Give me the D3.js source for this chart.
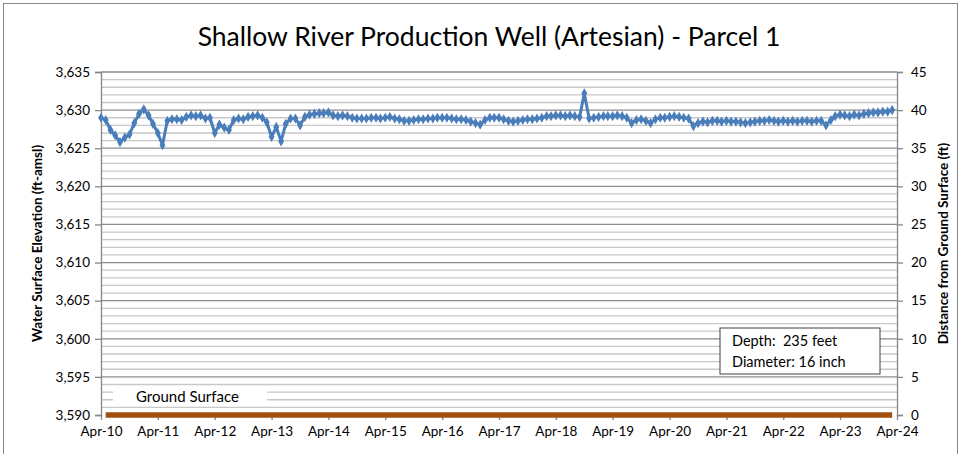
<!DOCTYPE html>
<html>
<head>
<meta charset="utf-8">
<script src="https://cdnjs.cloudflare.com/ajax/libs/d3/7.8.5/d3.min.js"></script>
<style>
	body { margin: 0; background: #fff; }
	text { font-family: Lato, "Open Sans", sans-serif; fill: #000; }
</style>
</head>
<body>
<div id="chart"></div>
<script>
// monthly water surface elevation (ft-amsl), first value is Apr-10
var firstMonth = new Date(2010, 3, 1);
var elevation = [
	3629.0, 3628.7, 3627.4, 3626.7, 3625.8, 3626.4, 3626.8, 3628.3, 3629.5, 3630.1, 3629.3, 3628.2,
	3627.0, 3625.4, 3628.6, 3628.8, 3628.8, 3628.7, 3629.1, 3629.3, 3629.2, 3629.3, 3628.9, 3629.0,
	3627.0, 3628.1, 3627.7, 3627.4, 3628.7, 3628.9, 3628.8, 3629.1, 3629.2, 3629.3, 3629.0, 3628.4,
	3626.5, 3627.8, 3625.9, 3628.2, 3628.9, 3628.9, 3628.0, 3629.1, 3629.4, 3629.5, 3629.6, 3629.6,
	3629.7, 3629.3, 3629.2, 3629.3, 3629.2, 3629.0, 3628.9, 3628.9, 3628.9, 3629.0, 3629.0, 3628.9,
	3629.0, 3629.1, 3628.9, 3628.8, 3628.6, 3628.6, 3628.7, 3628.8, 3628.8, 3628.9, 3628.9, 3629.0,
	3629.0, 3629.0, 3628.9, 3628.8, 3628.8, 3628.7, 3628.5, 3628.3, 3628.1, 3628.7, 3629.0, 3629.0,
	3629.0, 3628.8, 3628.6, 3628.5, 3628.6, 3628.7, 3628.8, 3628.8, 3628.9, 3629.0, 3629.2, 3629.2,
	3629.3, 3629.3, 3629.2, 3629.3, 3629.2, 3629.1, 3632.2, 3628.9, 3629.0, 3629.1, 3629.2, 3629.2,
	3629.2, 3629.3, 3629.2, 3629.0, 3628.3, 3628.7, 3628.8, 3628.6, 3628.3, 3628.8, 3629.0, 3629.0,
	3629.1, 3629.2, 3629.1, 3629.0, 3628.9, 3627.9, 3628.3, 3628.5, 3628.4, 3628.6, 3628.6, 3628.5,
	3628.6, 3628.5, 3628.5, 3628.4, 3628.3, 3628.4, 3628.5, 3628.6, 3628.6, 3628.7, 3628.6, 3628.5,
	3628.6, 3628.5, 3628.6, 3628.5, 3628.6, 3628.6, 3628.5, 3628.6, 3628.6, 3628.0, 3628.7, 3629.2,
	3629.4, 3629.3, 3629.2, 3629.4, 3629.3, 3629.5, 3629.6, 3629.7, 3629.7, 3629.8, 3629.8, 3630.0
];

// ground surface series (ft-amsl)
var groundStart = new Date(2010, 4, 1);
var groundEnd = new Date(2024, 2, 1);
var groundElevation = 3590;

// axis ticks
var yearTicks = d3.range(2010, 2025).map(function(y){ return new Date(y, 3, 1); });
var leftTicks = d3.range(3590, 3636, 5);
var rightTicks = d3.range(0, 46, 5);
var notes = ["Depth:  235 feet", "Diameter: 16 inch"];

var data = elevation.map(function(v, i){
	return {date: d3.timeMonth.offset(firstMonth, i), value: v};
});

// set margins and draw canvas
var W = 961, H = 454;
var margin = {left: 101, right: 64, top: 72, bottom: 39};
var width = W - margin.left - margin.right,
	height = H - margin.top - margin.bottom;

var svg = d3.select("#chart").append("svg")
	.attr("width", W)
	.attr("height", H);

// outer chart frame
svg.append("rect")
	.attr("x", 3.5).attr("y", 3.5)
	.attr("width", W - 7).attr("height", H + 10)
	.attr("fill", "#fff")
	.attr("stroke", "#868686")
	.attr("stroke-width", 1);

var canvas = svg.append("g")
	.attr("transform", "translate(" + margin.left + ", " + margin.top + ")");

// scales
var x = d3.scaleTime()
	.domain([new Date(2010, 3, 1), new Date(2024, 3, 1)])
	.range([0, width]);

var y = d3.scaleLinear()
	.domain([3590, 3635])
	.range([height, 0]);

var y2 = d3.scaleLinear()
	.domain([0, 45])
	.range([height, 0]);

// gridlines, minor then major
canvas.append("g")
	.selectAll("line")
	.data(d3.range(3591, 3635).filter(function(d){ return d % 5 != 0; }))
	.enter().append("line")
		.attr("x1", 0).attr("x2", width)
		.attr("y1", function(d){ return y(d); })
		.attr("y2", function(d){ return y(d); })
		.attr("stroke", "#c8c8c8")
		.attr("stroke-width", 1.3);

canvas.append("g")
	.selectAll("line")
	.data(leftTicks.slice(1))
	.enter().append("line")
		.attr("x1", 0).attr("x2", width)
		.attr("y1", function(d){ return y(d); })
		.attr("y2", function(d){ return y(d); })
		.attr("stroke", "#8c8c8c")
		.attr("stroke-width", 1.3);

// axes
var yAxisCall = d3.axisLeft(y)
	.tickValues(leftTicks)
	.tickSize(6)
	.tickPadding(5)
	.tickFormat(d3.format(","));
var yAxis = canvas.append("g")
	.attr("class", "y-axis")
	.call(yAxisCall);

var y2AxisCall = d3.axisRight(y2)
	.tickValues(rightTicks)
	.tickSize(6)
	.tickPadding(8);
var y2Axis = canvas.append("g")
	.attr("class", "y-axis")
	.attr("transform", "translate(" + width + ", 0)")
	.call(y2AxisCall);

var xAxisCall = d3.axisBottom(x)
	.tickValues(yearTicks)
	.tickSize(5)
	.tickPadding(6)
	.tickFormat(d3.timeFormat("%b-%y"));
var xAxis = canvas.append("g")
	.attr("class", "x-axis")
	.attr("transform", "translate(0, " + height + ")")
	.call(xAxisCall);

[yAxis, y2Axis, xAxis].forEach(function(a){
	a.select(".domain").attr("stroke", "#868686").attr("stroke-width", 1.3);
	a.selectAll(".tick line").attr("stroke", "#868686").attr("stroke-width", 1.3);
	a.selectAll(".tick text")
		.attr("font-size", "13.5px")
		.attr("fill", "#262626")
		.attr("font-family", "Lato, sans-serif");
});
xAxis.select(".domain").remove();

// ground surface label
canvas.append("rect")
	.attr("x", 12).attr("y", 317)
	.attr("width", 154).attr("height", 17)
	.attr("fill", "#fff");
canvas.append("text")
	.attr("x", 35)
	.attr("y", 330)
	.attr("font-size", "15px")
	.text("Ground Surface");

// ground surface line
canvas.append("line")
	.attr("x1", x(groundStart)).attr("x2", x(groundEnd))
	.attr("y1", y(groundElevation)).attr("y2", y(groundElevation))
	.attr("stroke", "#a3500f")
	.attr("stroke-width", 5.5);

// water level line and markers
var line = d3.line()
	.x(function(d){ return x(d.date); })
	.y(function(d){ return y(d.value); });

canvas.append("path")
	.datum(data)
	.attr("d", line)
	.attr("fill", "none")
	.attr("stroke", "#4a7ebb")
	.attr("stroke-width", 3)
	.attr("stroke-linejoin", "round");

canvas.append("g")
	.selectAll("path")
	.data(data)
	.enter().append("path")
		.attr("d", d3.symbol().type(d3.symbolDiamond).size(30))
		.attr("transform", function(d){ return "translate(" + x(d.date) + "," + y(d.value) + ")"; })
		.attr("fill", "#4a7ebb");

// well info box
var box = canvas.append("g")
	.attr("transform", "translate(619, 256)");
box.append("rect")
	.attr("width", 160).attr("height", 46)
	.attr("fill", "#fff")
	.attr("stroke", "#404040")
	.attr("stroke-width", 1);
notes.forEach(function(n, i){
	box.append("text")
		.attr("x", 12)
		.attr("y", 18 + i * 21)
		.attr("font-size", "14.5px")
		.style("white-space", "pre")
		.text(n);
});

// title
svg.append("text")
	.attr("x", 489)
	.attr("y", 46)
	.attr("font-size", "26.5px")
	.attr("text-anchor", "middle")
	.text("Shallow River Production Well (Artesian) - Parcel 1");

// y label
svg.append("text")
	.attr("x", -(margin.top + height / 2))
	.attr("y", 42)
	.attr("font-size", "13.5px")
	.attr("font-weight", "bold")
	.attr("text-anchor", "middle")
	.attr("transform", "rotate(-90)")
	.text("Water Surface Elevation (ft-amsl)");

// y2 label
svg.append("text")
	.attr("x", -(margin.top + height / 2))
	.attr("y", 948)
	.attr("font-size", "13.5px")
	.attr("font-weight", "bold")
	.attr("text-anchor", "middle")
	.attr("transform", "rotate(-90)")
	.text("Distance from Ground Surface (ft)");
</script>
</body>
</html>
